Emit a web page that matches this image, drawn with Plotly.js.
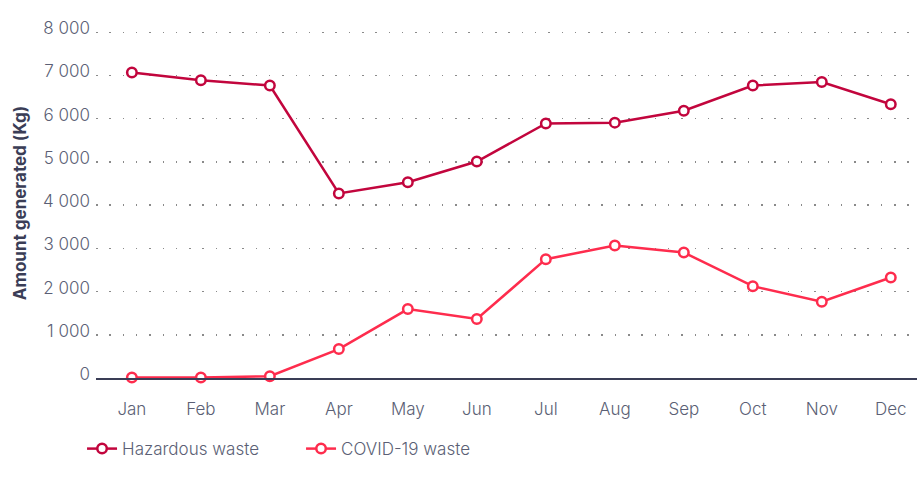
<!DOCTYPE html>
<html>
<head>
<meta charset="utf-8">
<script src="https://cdn.plot.ly/plotly-3.0.1.min.js"></script>
<style>html,body{margin:0;padding:0;background:#fff;}#chart{width:917px;height:483px;}</style>
</head>
<body>
<div id="chart"></div>
<script>
const months = ["Jan","Feb","Mar","Apr","May","Jun","Jul","Aug","Sep","Oct","Nov","Dec"];
const hazardous = [7070, 6890, 6770, 4270, 4530, 5010, 5890, 5910, 6185, 6770, 6850, 6335];
const covid = [10, 10, 40, 670, 1595, 1365, 2750, 3065, 2905, 2125, 1765, 2325];
const yTicks = [0, 1000, 2000, 3000, 4000, 5000, 6000, 7000, 8000];

const textColor = "#5b5f75";
const darkColor = "#3a3d56";

function series(name, y, color) {
  return {
    type: "scatter", mode: "lines+markers", name: name, x: months, y: y,
    line: {color: color, width: 2.5},
    marker: {symbol: "circle", size: 9.5, color: "#ffffff", line: {color: color, width: 2.5}},
    cliponaxis: false
  };
}

const data = [
  series("Hazardous waste", hazardous, "#c2053d"),
  series("COVID-19 waste", covid, "#fe2c4d")
];

const layout = {
  width: 917, height: 483,
  margin: {l: 96, r: 0, t: 28, b: 105},
  paper_bgcolor: "#ffffff", plot_bgcolor: "#ffffff",
  font: {family: "Inter, Roboto, sans-serif", color: textColor, size: 17, weight: 300},
  separators: ". ",
  showlegend: true,
  legend: {orientation: "h", x: -0.017, xanchor: "left", y: -0.203, yanchor: "middle",
           font: {size: 17, color: textColor, weight: 300}, entrywidth: 174, entrywidthmode: "pixels",
           itemwidth: 30},
  xaxis: {
    type: "category", range: [-0.52, 11.38], showgrid: false, zeroline: false,
    showline: true, linecolor: darkColor, linewidth: 1.5, ticks: "",
    tickfont: {size: 17, color: textColor, weight: 300}, ticklabelstandoff: 15
  },
  yaxis: {
    range: [0, 8100], tickvals: yTicks, tickformat: ",d",
    showgrid: true, gridcolor: "#8a8a8a", gridwidth: 1.5, griddash: "1.5px,11.8px",
    zeroline: false, showline: false, ticks: "",
    tickfont: {size: 17, color: textColor, weight: 300}, ticklabelshift: -4, ticklabelstandoff: 5,
    title: {text: "Amount generated (Kg)", font: {size: 17, color: darkColor, weight: "bold"}, standoff: 12},
    automargin: false
  }
};

Plotly.newPlot("chart", data, layout, {displayModeBar: false, staticPlot: true});
</script>
</body>
</html>
